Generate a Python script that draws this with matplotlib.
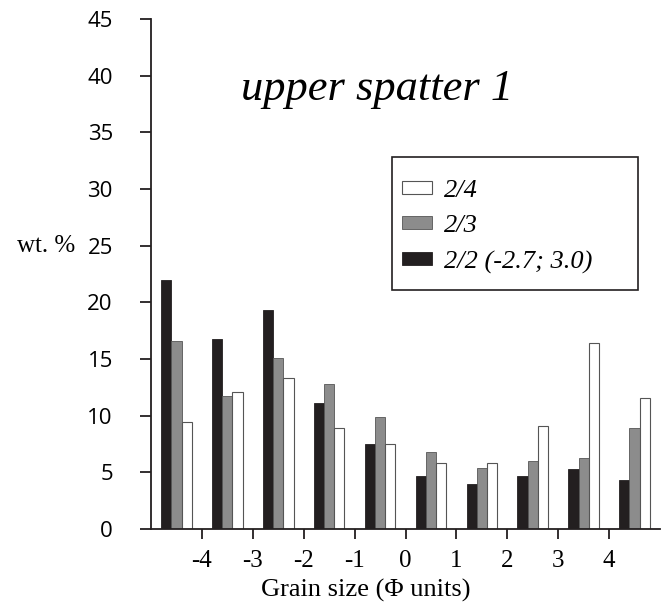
import matplotlib
matplotlib.use("Agg")
import matplotlib.pyplot as plt
from matplotlib.patches import Rectangle
from matplotlib.transforms import ScaledTranslation
import numpy as np

# Data
group_centers = [-4.5, -3.5, -2.5, -1.5, -0.5, 0.5, 1.5, 2.5, 3.5, 4.5]
s22 = [22.0, 16.8, 19.3, 11.1, 7.5, 4.7, 4.0, 4.7, 5.3, 4.3]   # 2/2 (-2.7; 3.0)
s23 = [16.6, 11.7, 15.1, 12.8, 9.9, 6.8, 5.4, 6.0, 6.3, 8.9]   # 2/3
s24 = [9.4, 12.1, 13.3, 8.9, 7.5, 5.8, 5.8, 9.1, 16.4, 11.6]   # 2/4
xticks = [-4, -3, -2, -1, 0, 1, 2, 3, 4]
yticks = [0, 5, 10, 15, 20, 25, 30, 35, 40, 45]

serif = ["Liberation Serif", "DejaVu Serif"]
sans = ["Open Sans", "DejaVu Sans"]

fig = plt.figure(figsize=(6.67, 6.03), dpi=100)
ax = fig.add_axes([0.2264, 0.1227, 0.7631, 0.8458])

w = 0.2
x = np.array(group_centers)
b22 = ax.bar(x - w, s22, w, color="#231f20", edgecolor="#231f20", linewidth=0.6, label="2/2 (-2.7; 3.0)")
b23 = ax.bar(x, s23, w, color="#8c8c8c", edgecolor="#555555", linewidth=0.6, label="2/3")
b24 = ax.bar(x + w, s24, w, color="white", edgecolor="#555555", linewidth=0.8, label="2/4")

ax.set_xlim(-5, 5)
ax.set_ylim(0, 45)
for s in ["top", "right"]:
    ax.spines[s].set_visible(False)
for s in ["left", "bottom"]:
    ax.spines[s].set_linewidth(1.3)
    ax.spines[s].set_color("#231f20")

ax.set_xticks(xticks)
ax.set_xticklabels([str(t) for t in xticks], family=serif, fontsize=18)
for t, lab in zip(xticks, ax.get_xticklabels()):
    if t < 0:
        lab.set_transform(lab.get_transform() + ScaledTranslation(-0.05, 0, fig.dpi_scale_trans))
ax.set_yticks(yticks)
ax.set_yticklabels([str(t) for t in yticks], family=sans, fontsize=16)
ax.tick_params(axis="x", direction="out", length=7, width=1.3, pad=8, color="#231f20")
ax.tick_params(axis="y", direction="out", length=8, width=1.3, pad=19.5, color="#231f20")

ax.set_xlabel("Grain size (Φ units)", family=serif, fontsize=19)
ax.xaxis.set_label_coords(0.422, -0.097)
ax.text(-0.206, 25 / 45, "wt. %", transform=ax.transAxes, family=serif, fontsize=18,
        ha="center", va="center")

ax.text(0.445, 0.862, "upper spatter 1", transform=ax.transAxes, family=serif,
        style="italic", fontsize=32, ha="center", va="center")

# legend frame
ax.add_patch(Rectangle((0.4735, 0.469), 0.4835, 0.26, transform=ax.transAxes,
                       fill=False, edgecolor="#231f20", linewidth=1.2, zorder=5))
leg = ax.legend(handles=[b24, b23, b22], loc="upper left",
                bbox_to_anchor=(0.4935, 0.685), frameon=False,
                prop={"family": serif, "style": "italic", "size": 19},
                handlelength=1.14, handleheight=0.4, labelspacing=0.51,
                handletextpad=0.45, borderaxespad=0, borderpad=0)

fig.savefig("out.png", dpi=100)
